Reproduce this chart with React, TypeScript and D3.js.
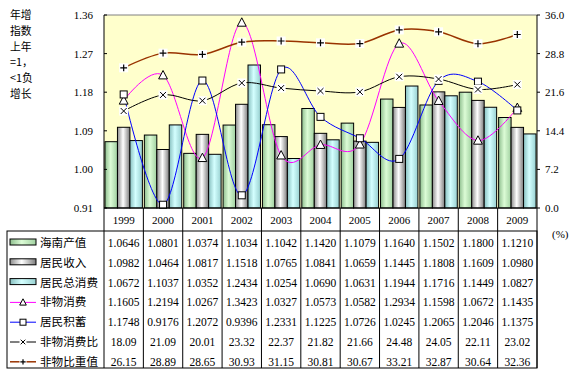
import React from "react";
import * as d3 from "d3";

const years = ["1999","2000","2001","2002","2003","2004","2005","2006","2007","2008","2009"];
const hainanOutput = [1.0646,1.0801,1.0374,1.1034,1.1042,1.1420,1.1079,1.1640,1.1502,1.1800,1.1210];
const income = [1.0982,1.0464,1.0817,1.1518,1.0765,1.0841,1.0659,1.1445,1.1808,1.1609,1.0980];
const totalConsumption = [1.0672,1.1037,1.0352,1.2434,1.0254,1.0690,1.0631,1.1944,1.1716,1.1449,1.0827];
const nonMaterial = [1.1605,1.2194,1.0267,1.3423,1.0327,1.0573,1.0582,1.2934,1.1598,1.0672,1.1435];
const savings = [1.1748,0.9176,1.2072,0.9396,1.2331,1.1225,1.0726,1.0245,1.2065,1.2046,1.1375];
const nonMaterialRatio = ["18.09","21.09","20.01","23.32","22.37","21.82","21.66","24.48","24.05","22.11","23.02"];
const nonMaterialWeight = ["26.15","28.89","28.65","30.93","31.15","30.81","30.67","33.21","32.87","30.64","32.36"];
const leftTicks = ["0.91","1.00","1.09","1.18","1.27","1.36"];
const rightTicks = ["0.0","7.2","14.4","21.6","28.8","36.0"];
const seriesNames = ["海南产值","居民收入","居民总消费","非物消费","居民积蓄","非物消费比","非物比重值"];
const titleLines = ["年增","指数","上年","=1，","<1负","增长"];

const X0 = 104, X1 = 537, Y0 = 15, Y1 = 208, TABLE_TOP = 231, TABLE_BOTTOM = 368, TL = 7;
const serif = "'Liberation Serif', 'Times New Roman', serif";
const cjk = "'Noto Sans CJK SC', 'Liberation Serif', sans-serif";

export default function App() {
  const x = d3.scaleBand<string>().domain(years).range([X0, X1]).padding(0);
  const cw = x.bandwidth();
  const yL = d3.scaleLinear().domain([0.91, 1.36]).range([Y1, Y0]);
  const yR = d3.scaleLinear().domain([0, 36]).range([Y1, Y0]);
  const groupW = cw * 0.95;
  const bw = groupW / 3;
  const cx = (y: string) => (x(y) as number) + cw / 2;

  const barSeries = [
    { vals: hainanOutput, fill: "url(#gGreen)" },
    { vals: income, fill: "url(#gGray)" },
    { vals: totalConsumption, fill: "url(#gCyan)" },
  ];

  const line = d3.line<[number, number]>().x(d => d[0]).y(d => d[1]).curve(d3.curveCardinal.tension(0));
  const lineSeries = [
    { pts: nonMaterial.map((v, i) => [cx(years[i]), yL(v)] as [number, number]), color: "#FF00FF", w: 1, marker: "tri" },
    { pts: savings.map((v, i) => [cx(years[i]), yL(v)] as [number, number]), color: "#0000FF", w: 1, marker: "sq" },
    { pts: nonMaterialRatio.map((v, i) => [cx(years[i]), yR(+v)] as [number, number]), color: "#000000", w: 1, marker: "x" },
    { pts: nonMaterialWeight.map((v, i) => [cx(years[i]), yR(+v)] as [number, number]), color: "#993300", w: 1.5, marker: "plus" },
  ];

  const marker = (type: string, px: number, py: number, s: number, key: any) => {
    if (type === "tri") {
      return <path key={key} d={`M${px},${py - s * 0.6}L${px + s * 0.55},${py + s * 0.45}L${px - s * 0.55},${py + s * 0.45}Z`} fill="white" stroke="black" strokeWidth={1} />;
    }
    if (type === "sq") {
      return <rect key={key} x={px - s / 2} y={py - s / 2} width={s} height={s} fill="white" stroke="black" strokeWidth={1} />;
    }
    if (type === "x") {
      const h = s * 0.33;
      return <g key={key}>
        <rect x={px - s / 2} y={py - s / 2} width={s} height={s} fill="white" />
        <path d={`M${px - h},${py - h}L${px + h},${py + h}M${px - h},${py + h}L${px + h},${py - h}`} stroke="black" strokeWidth={1} />
      </g>;
    }
    const h = s * 0.38;
    return <g key={key}>
      <rect x={px - s / 2} y={py - s / 2} width={s} height={s} fill="white" />
      <path d={`M${px - h},${py}L${px + h},${py}M${px},${py - h}L${px},${py + h}`} stroke="black" strokeWidth={1.2} />
    </g>;
  };

  const rowBase = (i: number) => 247 + 19.8 * i;
  const rowMid = (i: number) => 243 + 19.8 * i;
  const tableRows: string[][] = [
    hainanOutput.map(v => v.toFixed(4)),
    income.map(v => v.toFixed(4)),
    totalConsumption.map(v => v.toFixed(4)),
    nonMaterial.map(v => v.toFixed(4)),
    savings.map(v => v.toFixed(4)),
    nonMaterialRatio,
    nonMaterialWeight,
  ];
  const keyFills = ["url(#gGreen)", "url(#gGray)", "url(#gCyan)"];

  return (
    <svg width={577} height={375} style={{ position: "absolute", left: 0, top: 0 }}>
      <defs>
        <linearGradient id="gGreen" x1="0" x2="1" y1="0" y2="0">
          <stop offset="0" stopColor="#8fbf8f" />
          <stop offset="0.45" stopColor="#dcfcd6" />
          <stop offset="1" stopColor="#a0d0a0" />
        </linearGradient>
        <linearGradient id="gGray" x1="0" x2="1" y1="0" y2="0">
          <stop offset="0" stopColor="#8c8c8c" />
          <stop offset="0.45" stopColor="#ffffff" />
          <stop offset="1" stopColor="#7c7c7c" />
        </linearGradient>
        <linearGradient id="gCyan" x1="0" x2="1" y1="0" y2="0">
          <stop offset="0" stopColor="#88c0c0" />
          <stop offset="0.45" stopColor="#d4ffff" />
          <stop offset="1" stopColor="#98d0d0" />
        </linearGradient>
      </defs>
      <rect width={577} height={375} fill="white" />
      <rect x={X0} y={Y0} width={X1 - X0} height={Y1 - Y0} fill="#FFFFCC" />
      {barSeries.map((s, si) => s.vals.map((v, i) => {
        const bx = (x(years[i]) as number) + (cw - groupW) / 2 + si * bw;
        return <rect key={`b${si}-${i}`} x={bx} y={yL(v)} width={bw} height={Y1 - yL(v)} fill={s.fill} stroke="black" strokeWidth={1} />;
      }))}
      {lineSeries.map((s, si) => <path key={`l${si}`} d={line(s.pts) as string} fill="none" stroke={s.color} strokeWidth={s.w} />)}
      {lineSeries.map((s, si) => s.pts.map((p, i) => marker(s.marker, p[0], p[1], s.marker === "tri" ? 8 : s.marker === "sq" ? 7 : 9, `m${si}-${i}`)))}
      <line x1={X0} x2={X1} y1={Y0} y2={Y0} stroke="#808080" strokeWidth={1} />
      <line x1={X0} x2={X0} y1={Y0} y2={TABLE_BOTTOM} stroke="black" strokeWidth={1} />
      <line x1={X1} x2={X1} y1={Y0} y2={TABLE_BOTTOM} stroke="black" strokeWidth={1} />
      <line x1={X0} x2={X1} y1={Y1} y2={Y1} stroke="black" strokeWidth={1} />
      {leftTicks.map(t => (
        <g key={`lt${t}`}>
          <line x1={X0} x2={X0 + 3} y1={yL(+t)} y2={yL(+t)} stroke="black" />
          <text x={93} y={yL(+t) + 4} textAnchor="end" fontFamily={serif} fontSize={11}>{t}</text>
        </g>
      ))}
      {rightTicks.map(t => (
        <g key={`rt${t}`}>
          <line x1={X1} x2={X1 + 3} y1={yR(+t)} y2={yR(+t)} stroke="black" />
          <text x={545} y={yR(+t) + 4} textAnchor="start" fontFamily={serif} fontSize={11}>{t}</text>
        </g>
      ))}
      <text x={552} y={238} fontFamily={serif} fontSize={11}>(%)</text>
      {titleLines.map((t, i) => (
        <text key={`tt${i}`} x={10} y={19 + 15.8 * i} fontFamily={cjk} fontSize={10.8}>{t}</text>
      ))}
      {years.map((y, i) => (
        <g key={`c${y}`}>
          {i > 0 && <line x1={x(y) as number} x2={x(y) as number} y1={Y1} y2={TABLE_BOTTOM} stroke="black" />}
          <text x={cx(y)} y={224} textAnchor="middle" fontFamily={serif} fontSize={11}>{y}</text>
        </g>
      ))}
      <rect x={TL} y={TABLE_TOP} width={X1 - TL} height={TABLE_BOTTOM - TABLE_TOP} fill="none" stroke="black" strokeWidth={1} />
      {tableRows.map((row, ri) => row.map((v, i) => (
        <text key={`tv${ri}-${i}`} x={cx(years[i])} y={rowBase(ri)} textAnchor="middle" fontFamily={serif} fontSize={11.5}>{v}</text>
      )))}
      {seriesNames.map((n, ri) => {
        const my = rowMid(ri) - 1;
        let key: any;
        if (ri < 3) {
          key = <rect x={10} y={my - 3} width={26} height={6} fill={keyFills[ri]} stroke="black" strokeWidth={1} />;
        } else {
          const s = lineSeries[ri - 3];
          key = <g>
            <line x1={10} x2={36} y1={my + 1} y2={my + 1} stroke={s.color} strokeWidth={s.w} />
            {marker(s.marker, 23, my + 1, s.marker === "tri" ? 6 : s.marker === "sq" ? 6 : 7, "k")}
          </g>;
        }
        return <g key={`lg${ri}`}>
          {key}
          <text x={40} y={rowBase(ri)} fontFamily={cjk} fontSize={11.6}>{n}</text>
        </g>;
      })}
    </svg>
  );
}
